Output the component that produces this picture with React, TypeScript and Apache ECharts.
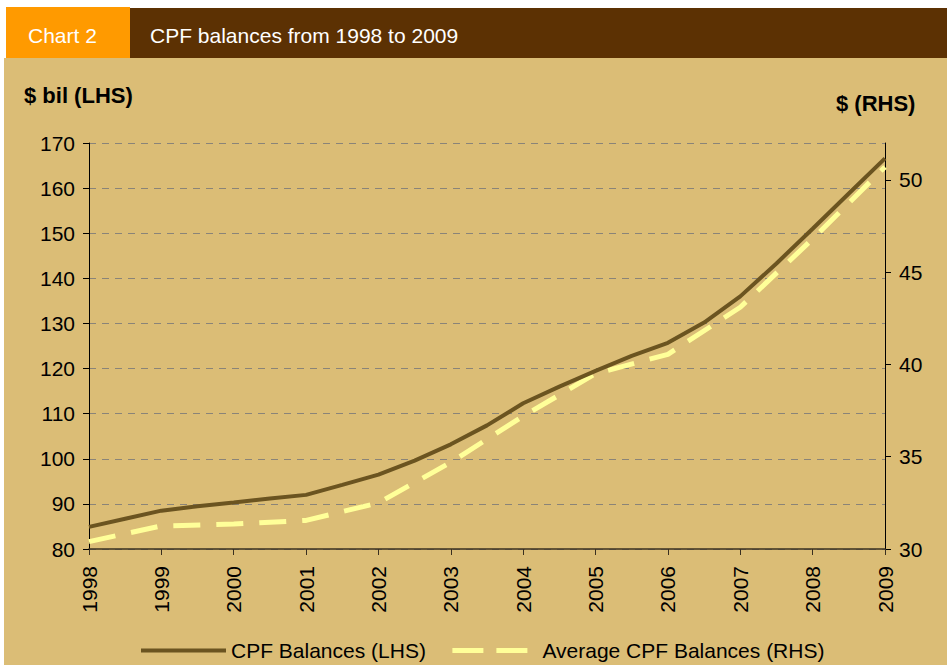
import React, { useEffect, useRef } from "react";
import * as echarts from "echarts";

// ---- data ----
const balanceYears = [
  1998, 1998.5, 1999, 1999.5, 2000, 2000.5, 2001, 2001.5, 2002, 2002.5, 2003, 2003.5,
  2004, 2004.5, 2005, 2005.5, 2006, 2006.5, 2007, 2007.5, 2008, 2008.5, 2009,
];
const balanceValues = [
  84.9, 86.7, 88.5, 89.5, 90.3, 91.2, 92.0, 94.2, 96.5, 99.6, 103.2, 107.4,
  112.3, 116.0, 119.5, 122.8, 125.7, 130.2, 136.0, 143.3, 151.0, 158.8, 166.6,
];
const avgYears = [1998, 1999, 2000, 2001, 2002, 2003, 2004, 2005, 2006, 2007, 2008, 2009];
const avgValues = [30.4, 31.25, 31.35, 31.55, 32.5, 34.7, 37.2, 39.5, 40.55, 43.1, 46.8, 50.7];
const rhsTickValues = [30, 35, 40, 45, 50];

const seriesNames = ["CPF Balances (LHS)", "Average CPF Balances (RHS)"];
const chartLabel = "Chart 2";
const chartTitle = "CPF balances from 1998 to 2009";
const lhsTitle = "$ bil (LHS)";
const rhsTitle = "$ (RHS)";

const FONT = "'Liberation Sans', Arial, sans-serif";
const SOLID = "#6B5420";
const DASH = "#FFFF99";

export default function App() {
  const ref = useRef<HTMLDivElement>(null);

  useEffect(() => {
    if (!ref.current) return;
    const chart = echarts.init(ref.current, undefined, { renderer: "svg" });
    const balanceData = balanceYears.map((x, i) => [x, balanceValues[i]]);
    const avgData = avgYears.map((x, i) => [x, avgValues[i]]);

    chart.setOption({
      animation: false,
      backgroundColor: "#ffffff",
      textStyle: { fontFamily: FONT },
      graphic: [
        { type: "rect", z: -10, silent: true, shape: { x: 4, y: 58, width: 943, height: 607 }, style: { fill: "#DBBD76" } },
        { type: "rect", z: -10, silent: true, shape: { x: 130, y: 8, width: 817, height: 50 }, style: { fill: "#5C3103" } },
        { type: "rect", z: -10, silent: true, shape: { x: 6, y: 7, width: 124, height: 51 }, style: { fill: "#FF9A00" } },
        { type: "text", x: 28, y: 35, style: { text: chartLabel, fill: "#ffffff", font: `21px ${FONT}`, textVerticalAlign: "middle" } },
        { type: "text", x: 150, y: 35, style: { text: chartTitle, fill: "#ffffff", font: `21px ${FONT}`, textVerticalAlign: "middle" } },
        { type: "text", x: 24, y: 95, style: { text: lhsTitle, fill: "#000000", font: `bold 22px ${FONT}`, textVerticalAlign: "middle" } },
        { type: "text", x: 836, y: 103, style: { text: rhsTitle, fill: "#000000", font: `bold 22px ${FONT}`, textVerticalAlign: "middle" } },
      ],
      grid: { left: 89, right: 62, top: 143, bottom: 116, containLabel: false },
      legend: {
        left: 134,
        top: 635,
        itemWidth: 85,
        itemHeight: 14,
        itemGap: 24,
        selectedMode: false,
        itemStyle: { color: "rgba(0,0,0,0)", borderWidth: 0, opacity: 0 },
        textStyle: { fontSize: 21, color: "#000000", fontFamily: FONT },
        data: [
          { name: seriesNames[0], lineStyle: { width: 4, color: SOLID } },
          { name: seriesNames[1], lineStyle: { width: 5, color: DASH, type: [31, 13] } },
        ],
      },
      xAxis: {
        type: "value",
        min: 1998,
        max: 2009,
        interval: 1,
        axisLine: { show: true, lineStyle: { color: "#3a3020", width: 1.5 } },
        axisTick: { show: true, length: 6, lineStyle: { color: "#3a3020" } },
        axisLabel: {
          rotate: 90,
          margin: 17,
          fontSize: 21,
          color: "#000000",
          fontFamily: FONT,
          formatter: (v: number) => String(v),
        },
        splitLine: { show: false },
      },
      yAxis: [
        {
          type: "value",
          min: 80,
          max: 170,
          interval: 10,
          axisLine: { show: true, lineStyle: { color: "#000000", width: 1 } },
          axisTick: { show: true, length: 6, lineStyle: { color: "#000000" } },
          axisLabel: { fontSize: 21, color: "#000000", margin: 14, fontFamily: FONT },
          splitLine: { show: true, lineStyle: { color: "#8a8478", width: 1, type: [7, 6] } },
        },
        {
          type: "value",
          min: 30,
          max: 52,
          interval: 5,
          position: "right",
          axisLine: { show: true, lineStyle: { color: "#000000", width: 1 } },
          axisTick: { show: true, length: 6, customValues: rhsTickValues, lineStyle: { color: "#000000" } },
          axisLabel: { fontSize: 21, color: "#000000", margin: 14, fontFamily: FONT, customValues: rhsTickValues },
          splitLine: { show: false },
        },
      ],
      series: [
        {
          name: seriesNames[0],
          type: "line",
          yAxisIndex: 0,
          data: balanceData,
          showSymbol: false,
          symbol: "none",
          lineStyle: { color: SOLID, width: 4 },
          itemStyle: { color: SOLID },
          z: 3,
        },
        {
          name: seriesNames[1],
          type: "line",
          yAxisIndex: 1,
          data: avgData,
          showSymbol: false,
          symbol: "none",
          lineStyle: { color: DASH, width: 5, type: [27, 16] },
          itemStyle: { color: DASH },
          z: 2,
        },
      ],
    });

    return () => chart.dispose();
  }, []);

  return (
    <div
      ref={ref}
      style={{ position: "fixed", left: 0, top: 0, width: 947, height: 665 }}
    />
  );
}
